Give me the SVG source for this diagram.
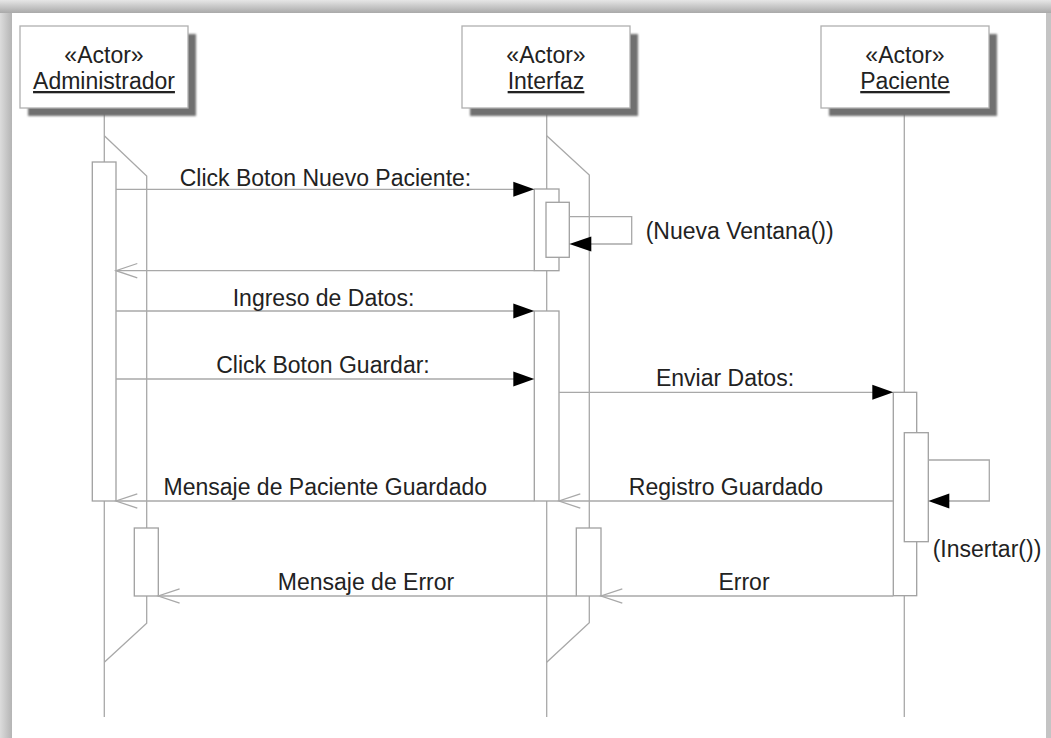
<svg xmlns="http://www.w3.org/2000/svg" width="1051" height="738" viewBox="0 0 1051 738">
<style>
.txt{font-family:"Liberation Sans",Arial,sans-serif;font-size:23px;fill:#222;}
.mid{text-anchor:middle;}
.ul{text-decoration:underline;}
.life{stroke:#a8a8a8;stroke-width:1.3;fill:none;}
.act{stroke:#a0a0a0;stroke-width:1.3;fill:#fff;}
.msg{stroke:#a8a8a8;stroke-width:1.3;fill:none;}
.box{fill:#fff;stroke:#b0b0b0;stroke-width:1.3;}
.shadow{fill:#707070;}
.head{fill:#000;}
.open{stroke:#a8a8a8;stroke-width:1.3;fill:none;}
</style>
<defs>
<linearGradient id="topband" x1="0" y1="0" x2="0" y2="1">
<stop offset="0" stop-color="#e6e6e6"/>
<stop offset="1" stop-color="#a9a9a9"/>
</linearGradient>
<linearGradient id="leftband" x1="0" y1="0" x2="1" y2="0">
<stop offset="0" stop-color="#dcdcdc"/>
<stop offset="1" stop-color="#b4b4b4"/>
</linearGradient>
<filter id="blur" x="-10%" y="-10%" width="120%" height="120%"><feGaussianBlur stdDeviation="1"/></filter>
</defs>
<rect x="0" y="0" width="1051" height="738" fill="#fff"/>
<rect x="0" y="0" width="1051" height="13" fill="url(#topband)"/>
<rect x="0" y="13" width="12" height="725" fill="url(#leftband)"/>
<rect x="1046" y="13" width="5" height="725" fill="#c4c4c4"/>

<g id="lifelines">
<line class="life" x1="104.3" y1="108" x2="104.3" y2="717"/>
<polyline class="life" points="104.3,135.7 146.7,176 146.7,623.3 104.3,662.3"/>
<line class="life" x1="546.7" y1="108" x2="546.7" y2="717"/>
<polyline class="life" points="546.7,135.7 589.3,175 589.3,622.7 546.7,662.3"/>
<line class="life" x1="904.3" y1="108" x2="904.3" y2="717"/>
</g>

<g id="administrador">
<rect class="shadow" x="28" y="34" width="168" height="82" filter="url(#blur)"/>
<rect class="box" x="20" y="26" width="168" height="82"/>
<text class="txt mid" x="104" y="63">«Actor»</text>
<text class="txt mid ul" x="104" y="89">Administrador</text>
<rect class="act" x="92.3" y="162" width="23.7" height="339"/>
<rect class="act" x="134.3" y="528" width="24" height="68"/>
</g>

<g id="interfaz">
<rect class="shadow" x="470" y="34" width="168" height="82" filter="url(#blur)"/>
<rect class="box" x="462" y="26" width="168" height="82"/>
<text class="txt mid" x="546" y="63">«Actor»</text>
<text class="txt mid ul" x="546" y="89">Interfaz</text>
<rect class="act" x="534.3" y="189" width="24.7" height="81.7"/>
<rect class="act" x="546" y="202.3" width="23.3" height="55"/>
<rect class="act" x="534.3" y="311" width="24.7" height="190"/>
<rect class="act" x="576.3" y="528" width="24.7" height="68"/>
</g>

<g id="paciente">
<rect class="shadow" x="829" y="34" width="168" height="82" filter="url(#blur)"/>
<rect class="box" x="821" y="26" width="168" height="82"/>
<text class="txt mid" x="905" y="63">«Actor»</text>
<text class="txt mid ul" x="905" y="89">Paciente</text>
<rect class="act" x="893.3" y="392.3" width="23.4" height="203.4"/>
<rect class="act" x="904.3" y="432.7" width="24" height="109"/>
</g>

<g id="connectors">
<line class="msg" x1="116" y1="189.3" x2="520" y2="189.3"/>
<polygon class="head" points="534.3,189.3 513.3,181.8 513.3,196.8"/>

<polyline class="msg" points="569.3,216.7 631.7,216.7 631.7,244 585,244"/>
<polygon class="head" points="569.3,244 591.3,236.5 591.3,251.5"/>

<line class="msg" x1="534.3" y1="270.7" x2="116" y2="270.7"/>
<polyline class="open" points="137.3,263.5 116,270.7 137.3,277.8"/>

<line class="msg" x1="116" y1="311" x2="520" y2="311"/>
<polygon class="head" points="534.3,311 513.3,303.5 513.3,318.5"/>

<line class="msg" x1="116" y1="379" x2="520" y2="379"/>
<polygon class="head" points="534.3,379 513.3,371.5 513.3,386.5"/>

<line class="msg" x1="559" y1="392.3" x2="880" y2="392.3"/>
<polygon class="head" points="893.3,392.3 872.3,384.8 872.3,399.8"/>

<polyline class="msg" points="928.3,460 989.3,460 989.3,501 945,501"/>
<polygon class="head" points="928.3,501 949.3,493.5 949.3,508.5"/>

<line class="msg" x1="534.3" y1="501" x2="116" y2="501"/>
<polyline class="open" points="137.3,493.8 116,501 137.3,508.2"/>

<line class="msg" x1="893.3" y1="501" x2="559" y2="501"/>
<polyline class="open" points="580.3,493.8 559,501 580.3,508.2"/>

<line class="msg" x1="576.3" y1="596" x2="158.3" y2="596"/>
<polyline class="open" points="179.6,588.8 158.3,596 179.6,603.2"/>

<line class="msg" x1="893.3" y1="596" x2="601" y2="596"/>
<polyline class="open" points="622.3,588.8 601,596 622.3,603.2"/>
</g>

<g id="labels">
<text class="txt mid" x="325.5" y="186">Click Boton Nuevo Paciente:</text>
<text class="txt" x="645.7" y="239">(Nueva Ventana())</text>
<text class="txt mid" x="323.5" y="306">Ingreso de Datos:</text>
<text class="txt mid" x="323" y="373">Click Boton Guardar:</text>
<text class="txt mid" x="725" y="386">Enviar Datos:</text>
<text class="txt mid" x="325.3" y="495">Mensaje de Paciente Guardado</text>
<text class="txt mid" x="726" y="495">Registro Guardado</text>
<text class="txt" x="932.7" y="557">(Insertar())</text>
<text class="txt mid" x="366" y="590">Mensaje de Error</text>
<text class="txt mid" x="744" y="590">Error</text>
</g>
</svg>
